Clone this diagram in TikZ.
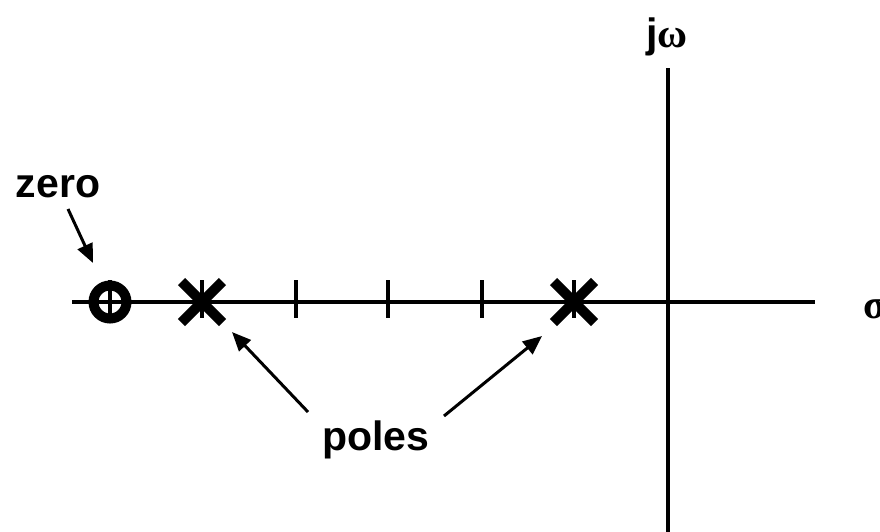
\documentclass[tikz,border=0pt]{standalone}
\usepackage{fontspec}
\setmainfont{Liberation Sans}
\newfontfamily\grk{Liberation Serif}
\usetikzlibrary{calc,arrows.meta}
\begin{document}
\begin{tikzpicture}[x=1pt,y=-1pt,
  axisline/.style={line width=3.6pt},
  tickline/.style={line width=3.2pt},
  polemark/.style={line width=10pt},
  lbl/.style={font=\fontsize{41}{49}\selectfont\bfseries, inner sep=0pt},
  pointer/.style={line width=3pt,-{Triangle[length=19pt,width=16pt]}}]
\useasboundingbox (0,0) rectangle (880,531);
\clip (0,0) rectangle (880,531);
% axes
\coordinate (hl) at (72,302);
\coordinate (hr) at (815,302);
\coordinate (vt) at (668,68);
\coordinate (vb) at (668,535);
\draw[axisline] (hl) -- (hr);
\draw[axisline] (vt) -- (vb);
% ticks
\foreach \x in {110,202,296,388,482,574}
  \draw[tickline] (\x,280) -- (\x,318);
% zero
\coordinate (z) at (110,302);
\draw[line width=10pt] (z) circle (16.5);
% poles
\coordinate (p1) at (202,302);
\coordinate (p2) at (574,302);
\foreach \p in {p1,p2} {
  \draw[polemark] ($(\p)+(-20.5,-20.5)$) -- ($(\p)+(20.5,20.5)$);
  \draw[polemark] ($(\p)+(-20.5,20.5)$) -- ($(\p)+(20.5,-20.5)$);
}
% labels
\node[lbl, anchor=base] (zero) at (58,197) {zero};
\node[lbl, anchor=base] (poles) at (376,450) {poles};
\node[lbl, anchor=base] (jw) at (667,47) {j{\grk ω}};
\node[lbl, anchor=base west] (sig) at (863,318) {{\grk σ}};
% pointers
\coordinate (zt) at (68,209);
\coordinate (zh) at (93,263);
\draw[pointer] (zt) -- (zh);
\coordinate (a1t) at (308,412);
\coordinate (a1h) at (232,332);
\draw[pointer] (a1t) -- (a1h);
\coordinate (a2t) at (444,416);
\coordinate (a2h) at (542,336);
\draw[pointer] (a2t) -- (a2h);
\end{tikzpicture}
\end{document}
